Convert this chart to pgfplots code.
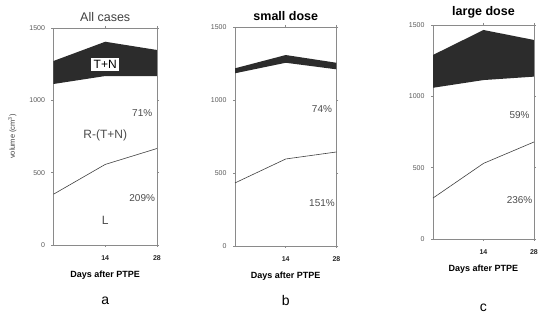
\documentclass[border=0pt]{standalone}
\usepackage{fontspec}
\setmainfont{Liberation Sans}
\usepackage{pgfplots}
\pgfplotsset{compat=1.18}
\definecolor{darkfill}{HTML}{2C2C2C}
\definecolor{framegray}{HTML}{8A8A8A}
\tikzset{pct/.style={font=\fontsize{10}{11}\selectfont, text=black!70},
         letter/.style={font=\fontsize{14}{15}\selectfont}}
\pgfplotsset{
  panel/.style={
    scale only axis,
    anchor=south west,
    xmin=0, xmax=28, ymin=0, ymax=1500,
    xtick={14,28}, ytick={0,500,1000,1500},
    axis line style={framegray, line width=0.6pt},
    tick style={framegray, line width=0.5pt},
    tick align=outside,
    major tick length=2pt,
    /pgf/number format/assume math mode=true,
    /pgf/number format/1000 sep={},
    yticklabel style={font=\fontsize{7}{8}\selectfont, text=black!65, xshift=-3pt},
    xticklabel style={font=\fontsize{7}{8}\selectfont\bfseries, text=black!85, yshift=-5pt},
    scaled y ticks=false,
    title style={font=\fontsize{12.5}{13}\selectfont\bfseries, yshift=-3pt},
    xlabel style={font=\fontsize{9}{10}\selectfont\bfseries, yshift=-4pt},
    clip=false,
  },
}
\begin{document}
\begin{tikzpicture}[x=1pt,y=1pt]
\useasboundingbox (0,0) rectangle (542,321);
% ---------- panel a ----------
\begin{axis}[panel, at={(53.5pt,76pt)}, width=103.5pt, height=217pt,
  title={All cases}, title style={font=\fontsize{12.5}{13}\selectfont, text=black!75},
  xlabel={Days after PTPE},
  ylabel={volume (cm\textsuperscript{3})},
  ylabel style={font=\fontsize{7.5}{8}\selectfont, text=black!75, yshift=6pt}]
\addplot[fill=darkfill, draw=none] coordinates {(0,1272) (14,1405) (28,1348) (28,1168) (14,1168) (0,1113)} -- cycle;
\addplot[black!75, line width=0.6pt] coordinates {(0,351) (14,557) (28,667)};
\node[fill=white, inner sep=2.5pt, font=\fontsize{12}{13}\selectfont] at (axis cs:14,1248) {T+N};
\node[pct] at (axis cs:24,910) {71\%};
\node[font=\fontsize{12}{13}\selectfont, text=black!70] at (axis cs:14,760) {R-(T+N)};
\node[pct] at (axis cs:24,325) {209\%};
\node[font=\fontsize{12}{13}\selectfont, text=black!70] at (axis cs:14,170) {L};
\node[letter] at (axis cs:14,-385) {a};
\end{axis}
% ---------- panel b ----------
\begin{axis}[panel, at={(235pt,75pt)}, width=101.5pt, height=219pt,
  title={small dose}, xlabel={Days after PTPE}]
\addplot[fill=darkfill, draw=none] coordinates {(0,1217) (14,1308) (28,1255) (28,1210) (14,1255) (0,1183)} -- cycle;
\addplot[black!75, line width=0.6pt] coordinates {(0,432) (14,596) (28,644)};
\node[pct] at (axis cs:24,938) {74\%};
\node[pct] at (axis cs:24,295) {151\%};
\node[letter] at (axis cs:14,-375) {b};
\end{axis}
% ---------- panel c ----------
\begin{axis}[panel, at={(433pt,82pt)}, width=101pt, height=214pt,
  title={large dose}, xlabel={Days after PTPE}]
\addplot[fill=darkfill, draw=none] coordinates {(0,1290) (14,1465) (28,1395) (28,1138) (14,1114) (0,1060)} -- cycle;
\addplot[black!75, line width=0.6pt] coordinates {(0,287) (14,530) (28,680)};
\node[pct] at (axis cs:24,870) {59\%};
\node[pct] at (axis cs:24,273) {236\%};
\node[letter] at (axis cs:14,-485) {c};
\end{axis}
\end{tikzpicture}
\end{document}
